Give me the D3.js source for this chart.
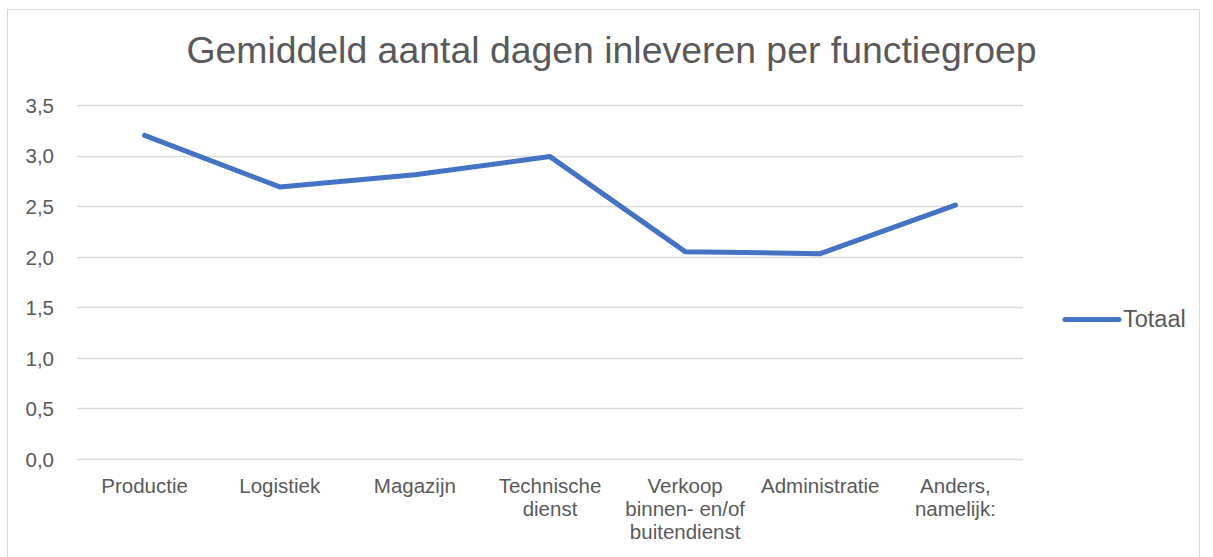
<!DOCTYPE html>
<html>
<head>
<meta charset="utf-8">
<script src="https://cdn.jsdelivr.net/npm/d3@7"></script>
<style>
	body { margin: 0; background: #fff; }
	svg { display: block; font-family: "Liberation Sans", Arial, sans-serif; }
</style>
</head>
<body>
<script>
// Data
var categories = ["Productie", "Logistiek", "Magazijn", "Technische\ndienst",
	"Verkoop\nbinnen- en/of\nbuitendienst", "Administratie", "Anders,\nnamelijk:"];
var totaal = [3.20, 2.69, 2.81, 2.99, 2.05, 2.03, 2.51];
var yTicks = [0, 0.5, 1.0, 1.5, 2.0, 2.5, 3.0, 3.5];
var seriesName = "Totaal";
var title = "Gemiddeld aantal dagen inleveren per functiegroep";

var width = 1213, height = 557;
var plot = {left: 77, right: 1023, top: 105, bottom: 459};
var textcolor = "#595959";
var linecolor = "#4472C4";
var labelsize = 20.5;

var svg = d3.select("body").append("svg")
	.attr("width", width).attr("height", height);

// Chart border
svg.append("rect")
	.attr("x", 7.5).attr("y", 9.5)
	.attr("width", 1192).attr("height", 560)
	.attr("fill", "none").attr("stroke", "#d9d9d9").attr("stroke-width", 1);

// Title
svg.append("text")
	.attr("x", 611.5).attr("y", 63)
	.attr("text-anchor", "middle")
	.style("font-size", "37.4px")
	.style("fill", textcolor)
	.text(title);

var x = d3.scaleBand().domain(categories).range([plot.left, plot.right]);
var y = d3.scaleLinear().domain([0, 3.5]).range([plot.bottom, plot.top]);

// Gridlines
svg.append("g").selectAll("line").data(yTicks).enter().append("line")
	.attr("x1", plot.left).attr("x2", plot.right)
	.attr("y1", function(d) { return Math.round(y(d)) + 0.5; })
	.attr("y2", function(d) { return Math.round(y(d)) + 0.5; })
	.attr("stroke", "#d9d9d9").attr("stroke-width", 1.3);

// Y axis labels
var yAxis = d3.axisLeft(y).tickValues(yTicks).tickSize(0).tickPadding(0)
	.tickFormat(function(d) { return d3.format(".1f")(d).replace(".", ","); });
var gy = svg.append("g").attr("transform", "translate(54,0)").call(yAxis);
gy.select(".domain").remove();
gy.selectAll("text")
	.attr("dy", "0.36em")
	.style("font-size", labelsize + "px").style("fill", textcolor)
	.style("font-family", "'Liberation Sans', Arial, sans-serif");

// X axis labels (multi-line)
var xl = svg.append("g").selectAll("text").data(categories).enter().append("text")
	.attr("x", function(d) { return x(d) + x.bandwidth() / 2; })
	.attr("y", 493)
	.attr("text-anchor", "middle")
	.style("font-size", labelsize + "px").style("fill", textcolor);
xl.each(function(d) {
	var t = d3.select(this);
	d.split("\n").forEach(function(line, i) {
		t.append("tspan")
			.attr("x", x(d) + x.bandwidth() / 2)
			.attr("dy", i == 0 ? 0 : 23)
			.text(line);
	});
});

// Line
var line = d3.line()
	.x(function(d, i) { return x(categories[i]) + x.bandwidth() / 2; })
	.y(function(d) { return y(d); });
svg.append("path").datum(totaal)
	.attr("d", line)
	.attr("fill", "none")
	.attr("stroke", linecolor).attr("stroke-width", 5)
	.attr("stroke-linecap", "round").attr("stroke-linejoin", "round");

// Legend
svg.append("line")
	.attr("x1", 1065).attr("x2", 1119)
	.attr("y1", 319.5).attr("y2", 319.5)
	.attr("stroke", linecolor).attr("stroke-width", 5)
	.attr("stroke-linecap", "round");
svg.append("text")
	.attr("x", 1123).attr("y", 327)
	.style("font-size", "23.5px").style("fill", textcolor)
	.text(seriesName);
</script>
</body>
</html>
